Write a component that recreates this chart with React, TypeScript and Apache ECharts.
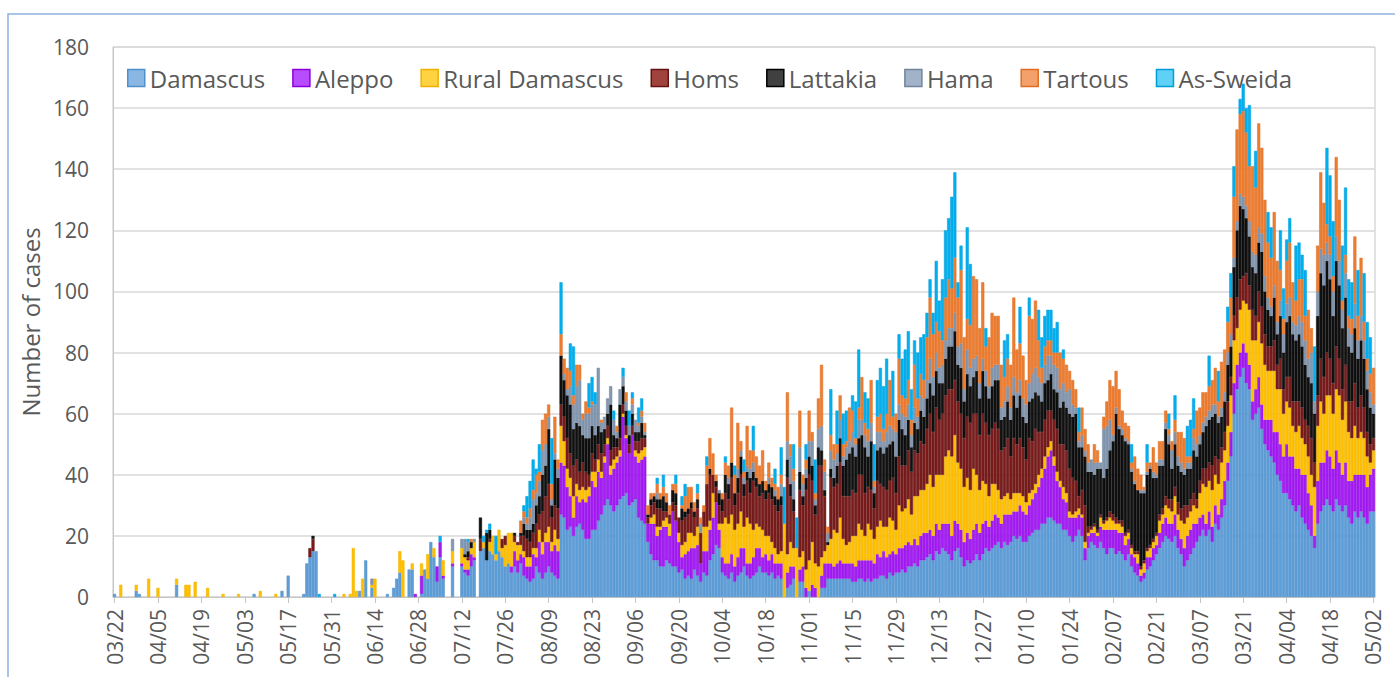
import React, { useEffect, useRef } from "react";
import * as echarts from "echarts";

// 407 daily categories, 03/22 (2020) .. 05/02 (2021)
const START = { y: 2020, m: 2, d: 22 };
const DAY_COUNT = 407;
const categories: string[] = [];
for (let i = 0; i < DAY_COUNT; i++) {
  const dt = new Date(START.y, START.m, START.d + i);
  const mm = String(dt.getMonth() + 1).padStart(2, "0");
  const dd = String(dt.getDate()).padStart(2, "0");
  categories.push(mm + "/" + dd);
}

const yTicks = [0, 20, 40, 60, 80, 100, 120, 140, 160, 180];

const damascus = [
1,0,0,0,0,0,0,2,1,0,0,0,0,0,
0,0,0,0,0,0,4,0,0,0,0,0,0,0,
0,0,0,0,0,0,0,0,0,0,0,0,0,0,
0,0,0,1,0,0,0,0,0,0,0,0,2,0,
7,0,0,0,0,1,11,13,15,15,0,0,0,0,
0,0,0,0,0,0,0,0,0,2,0,12,0,3,
0,0,0,0,1,0,3,6,8,0,0,9,9,0,
0,1,9,6,18,13,5,13,6,0,0,10,0,0,
10,8,7,10,12,0,15,16,12,15,14,12,15,13,
10,11,8,10,8,11,7,6,5,6,10,8,6,8,
10,8,7,6,27,26,22,23,20,23,24,22,19,19,
22,22,25,27,30,32,30,28,30,32,33,34,30,31,
32,26,25,24,18,14,12,12,10,10,12,11,10,10,
8,9,6,7,6,9,7,5,8,7,12,14,17,16,
8,7,6,8,5,7,8,10,7,6,7,8,10,8,
8,7,8,6,7,6,0,3,4,6,0,5,5,0,
2,0,0,0,3,3,6,6,6,6,6,6,6,6,
5,5,6,6,5,6,5,6,6,7,7,6,8,7,
8,8,9,8,10,10,11,10,12,12,13,14,12,15,
14,16,15,14,12,15,16,13,10,12,11,12,14,12,
14,16,15,16,17,18,16,18,17,18,20,19,20,18,
18,20,21,22,22,24,24,26,26,25,24,24,22,22,
20,18,20,22,20,12,16,18,17,16,18,16,14,16,
16,14,15,14,12,14,10,8,7,5,6,9,10,12,
14,16,18,20,19,18,20,16,14,10,12,14,16,18,
20,22,20,22,18,24,22,26,30,38,46,60,68,72,
75,70,68,58,60,62,55,50,48,46,44,40,38,34,
34,32,30,28,30,26,24,22,20,16,24,28,30,32,
30,28,32,30,28,30,26,24,28,26,28,26,24,28,28,
];

const aleppo = [
0,0,0,0,0,0,0,0,0,0,0,0,0,0,
0,0,0,0,0,0,0,0,0,0,0,0,0,0,
0,0,0,0,0,0,0,0,0,0,0,0,0,0,
0,0,0,0,0,0,0,0,0,0,0,0,0,0,
0,0,0,0,0,0,0,0,0,0,0,0,0,0,
0,0,0,0,0,0,0,0,0,0,0,0,0,0,
0,0,0,0,0,0,0,0,0,0,0,0,0,1,
0,6,0,0,0,0,5,5,1,0,0,1,0,0,
1,1,2,4,1,0,0,0,0,0,0,0,0,0,
0,0,2,5,4,3,6,4,5,8,3,10,8,10,
8,7,10,9,17,17,14,10,6,10,7,10,12,14,
16,14,16,12,14,18,10,14,14,14,26,18,17,22,
14,18,20,22,6,10,12,8,12,13,11,9,18,15,
10,4,8,8,10,7,10,6,7,8,10,12,14,6,
5,4,5,6,5,6,8,6,4,5,6,8,6,5,
6,5,6,5,4,5,0,5,6,4,0,4,5,3,
0,4,3,0,4,8,5,5,4,5,6,5,5,5,
6,5,6,6,7,6,7,5,8,6,8,7,6,8,
6,8,7,9,8,7,8,7,8,9,8,8,8,9,
8,8,9,10,8,10,8,9,8,9,8,10,10,9,
10,9,8,9,10,8,8,9,10,9,8,9,10,10,
9,10,11,12,14,15,18,20,22,18,14,12,10,9,
6,8,6,5,6,4,4,3,4,4,5,6,8,6,
6,8,6,7,5,5,4,5,4,2,2,4,3,4,
3,5,6,6,5,6,7,6,5,6,8,8,8,6,
6,5,4,6,5,6,5,6,8,6,8,10,8,8,
8,10,8,6,8,10,8,8,10,12,10,14,12,12,
16,14,16,14,12,14,16,12,10,4,14,16,14,16,
16,14,16,14,12,14,12,14,12,14,12,14,12,12,14,
];

const ruralDamascus = [
0,0,4,0,0,0,0,2,0,0,0,6,0,0,
3,0,0,0,0,0,2,0,0,4,4,0,5,0,
0,0,3,0,0,0,0,1,0,0,0,0,1,0,
0,0,0,0,0,2,0,0,0,0,1,0,0,0,
0,0,0,0,0,0,0,0,0,0,0,0,0,0,
0,0,0,0,1,0,1,16,2,0,6,0,0,1,
6,0,0,0,0,0,0,0,7,12,0,0,2,0,
0,4,0,8,0,3,0,0,5,0,0,4,0,0,
5,4,3,2,5,0,0,2,0,3,6,2,7,3,
7,10,11,3,5,3,2,3,3,2,3,4,4,3,
5,3,5,4,12,8,6,6,7,4,4,4,4,3,
3,5,4,2,2,2,3,3,2,2,1,1,0,0,
2,3,3,3,0,2,3,3,1,2,3,4,0,0,
3,4,4,6,5,4,6,0,8,8,3,8,0,2,
11,15,13,13,12,11,12,7,15,13,9,8,7,9,
6,8,4,5,3,4,24,6,8,6,16,4,5,6,
10,14,8,10,6,4,6,8,12,10,14,8,6,7,
9,10,12,10,8,12,10,8,9,12,8,10,12,10,
8,14,12,12,14,10,14,16,15,14,16,18,16,16,
18,16,22,24,26,28,20,20,18,18,16,20,16,14,
14,12,10,12,10,9,8,6,7,5,6,6,4,5,
4,4,3,3,4,3,4,3,3,3,3,2,4,3,
2,1,2,2,1,2,1,1,2,1,3,2,3,4,
3,2,3,2,3,2,2,1,3,2,3,2,3,2,
3,4,3,4,5,4,6,5,6,8,6,6,6,5,
8,10,12,10,12,10,10,12,10,12,12,14,12,14,
14,16,18,20,16,18,20,18,16,16,20,14,18,14,
14,16,10,12,14,12,10,12,10,16,18,20,16,18,
20,18,20,22,18,20,16,14,16,12,14,12,10,4,6,
];

const homs = [
0,0,0,0,0,0,0,0,0,0,0,0,0,0,
0,0,0,0,0,0,0,0,0,0,0,0,0,0,
0,0,0,0,0,0,0,0,0,0,0,0,0,0,
0,0,0,0,0,0,0,0,0,0,0,0,0,0,
0,0,0,0,0,0,0,3,4,0,0,0,0,0,
0,0,0,0,0,0,0,0,0,0,0,0,0,0,
0,0,0,0,0,0,0,0,0,0,0,0,0,0,
0,0,0,0,0,0,0,0,0,0,0,0,0,0,
0,0,1,0,0,0,4,0,0,1,0,0,0,3,
3,0,0,2,1,3,5,6,5,5,8,5,10,12,
14,8,8,10,7,8,10,8,10,8,6,8,6,4,
6,4,5,6,4,4,5,4,3,4,3,3,3,3,
3,4,4,3,2,4,4,6,6,3,2,3,3,5,
5,8,8,6,8,6,6,10,5,14,15,6,5,6,
4,8,8,12,8,10,12,10,12,10,16,12,10,12,
12,14,14,14,14,15,0,25,15,12,0,22,15,26,
28,20,16,33,30,18,0,20,14,16,18,14,16,15,
15,14,16,18,14,12,13,10,15,12,13,12,12,14,
12,16,15,14,16,14,15,14,16,15,18,20,18,22,
18,20,20,20,22,18,20,18,16,20,22,18,20,18,
22,20,20,18,20,20,16,16,18,14,18,16,18,16,
14,18,16,18,14,12,12,12,10,12,14,12,14,14,
14,12,10,4,8,12,2,1,1,1,1,1,1,2,
2,2,1,2,1,1,1,1,1,1,1,1,1,1,
1,2,2,3,3,4,3,4,4,6,4,4,4,3,
4,5,6,6,8,6,8,5,6,8,6,8,10,10,
8,10,8,10,8,10,12,10,8,8,10,8,10,8,
8,10,8,10,8,10,8,10,12,8,10,14,12,14,
12,10,14,12,10,12,10,12,14,10,12,10,8,6,4,
];

const lattakia = [
0,0,0,0,0,0,0,0,0,0,0,0,0,0,
0,0,0,0,0,0,0,0,0,0,0,0,0,0,
0,0,0,0,0,0,0,0,0,0,0,0,0,0,
0,0,0,0,0,0,0,0,0,0,0,0,0,0,
0,0,0,0,0,0,0,0,1,0,0,0,0,0,
0,0,0,0,0,0,0,0,0,0,0,0,0,0,
0,0,0,0,0,0,0,0,0,0,0,0,0,0,
0,0,0,0,0,0,0,0,0,0,0,0,0,0,
0,1,2,2,0,0,7,0,9,3,0,0,0,0,
0,0,0,1,0,1,4,3,4,3,6,6,12,10,
18,4,15,10,16,12,14,16,12,12,15,9,11,12,
9,8,6,7,5,4,15,4,3,11,6,5,3,4,
3,3,5,1,1,2,2,3,3,5,3,0,4,4,
0,4,2,2,2,2,3,0,0,0,2,0,2,4,
4,6,5,5,4,5,6,4,3,5,3,3,4,4,
3,3,4,3,4,3,0,6,4,4,0,6,3,4,
6,5,3,6,5,2,1,3,3,6,8,10,12,14,
14,12,12,13,15,10,16,5,10,12,11,14,12,12,
12,12,12,10,10,8,9,8,10,9,10,10,12,12,
12,10,12,14,14,16,12,15,12,14,12,12,14,12,
14,12,12,14,14,16,10,10,12,12,14,12,14,10,
12,12,14,12,12,10,12,10,12,10,12,12,14,14,
18,20,22,16,14,16,18,18,16,20,15,14,16,20,
24,34,30,28,30,28,24,22,20,24,22,24,25,20,
18,16,14,22,18,10,14,12,12,10,12,10,14,14,
12,12,14,14,16,14,12,10,10,12,10,16,22,24,
22,18,16,14,14,16,18,14,12,10,14,10,14,12,
18,20,22,20,22,20,18,16,18,16,26,28,30,30,
26,22,28,24,20,22,18,16,18,16,18,16,14,12,8,
];

const hama = [
0,0,0,0,0,0,0,0,0,0,0,0,0,0,
0,0,0,0,0,0,0,0,0,0,0,0,0,0,
0,0,0,0,0,0,0,0,0,0,0,0,0,0,
0,0,0,0,0,0,0,0,0,0,0,0,0,0,
0,0,0,0,0,0,0,0,0,0,0,0,0,0,
0,0,0,0,0,0,0,0,0,0,0,0,0,2,
0,0,0,0,0,0,0,0,0,0,0,0,0,0,
0,0,0,0,0,0,0,0,0,0,0,4,0,0,
3,5,3,0,1,0,0,0,0,0,0,0,0,0,
0,0,0,0,0,0,2,2,4,8,4,5,8,7,
4,2,2,3,0,2,2,6,8,12,15,5,8,8,
7,10,19,3,4,5,6,5,2,5,3,3,3,3,
4,2,2,1,0,0,0,2,0,0,0,0,0,0,
0,0,0,0,0,0,0,3,0,0,0,0,0,1,
0,0,2,0,0,3,2,2,2,3,3,0,0,0,
0,2,0,2,0,4,0,6,9,6,0,8,4,3,
5,8,2,6,8,6,3,6,6,4,6,3,4,4,
5,4,6,5,4,5,6,2,6,5,4,5,6,4,
8,5,5,6,5,4,5,4,5,6,6,8,6,6,
5,6,6,6,6,6,6,8,4,8,6,6,5,5,
4,5,4,6,5,5,4,5,5,4,6,5,5,6,
6,6,8,8,6,6,6,8,6,8,8,6,6,5,
8,4,2,2,4,2,3,4,4,2,2,16,14,10,
2,2,1,2,1,1,1,1,0,1,1,1,1,2,
1,2,2,2,3,6,4,3,3,2,2,2,4,4,
3,3,3,3,4,3,2,3,3,4,4,3,3,4,
4,4,5,5,6,5,6,5,4,3,4,4,5,6,
6,6,4,5,6,8,8,6,10,4,8,8,10,6,
8,8,8,8,6,8,6,6,8,6,8,6,6,5,3,
];

const tartous = [
0,0,0,0,0,0,0,0,0,0,0,0,0,0,
0,0,0,0,0,0,0,0,0,0,0,0,0,0,
0,0,0,0,0,0,0,0,0,0,0,0,0,0,
0,0,0,0,0,0,0,0,0,0,0,0,0,0,
0,0,0,0,0,0,0,0,0,0,0,0,0,0,
0,0,0,0,0,0,0,0,0,0,0,0,0,0,
0,0,0,0,0,0,0,0,0,0,0,0,0,0,
0,0,0,0,0,0,0,0,0,0,0,0,0,0,
0,0,0,1,0,0,0,0,0,0,0,0,0,0,
0,0,0,0,0,4,2,2,3,3,6,3,10,10,
4,5,12,3,7,5,7,5,3,7,5,2,4,2,
1,0,0,1,0,0,0,0,2,0,0,3,0,2,
0,1,2,3,3,2,1,3,2,3,3,3,2,3,
0,1,5,7,5,3,2,2,2,6,10,7,2,0,
2,4,4,18,6,15,3,2,13,6,4,7,6,10,
3,5,3,2,4,3,0,16,4,4,0,12,3,3,
10,3,2,10,20,4,2,5,5,3,8,4,2,11,
7,2,4,14,4,4,14,2,5,6,4,6,15,4,
6,15,6,6,8,5,14,6,7,6,14,20,14,10,
12,8,14,16,13,18,16,24,17,10,14,27,25,18,
25,8,16,18,16,16,14,8,9,14,26,14,12,14,
8,22,18,22,12,5,6,5,5,4,5,12,8,9,
6,8,6,3,9,7,6,0,6,4,0,4,8,13,
16,12,12,6,5,5,2,8,7,5,1,3,1,8,
4,6,6,4,2,3,4,8,10,10,2,2,3,11,
9,10,8,8,8,12,5,15,14,10,12,20,30,26,
28,24,18,28,22,34,28,25,18,16,24,20,10,5,
14,18,13,8,12,14,8,16,8,0,15,25,17,6,
6,5,26,20,3,6,4,5,22,8,19,6,4,6,12,
];

const asSweida = [
0,0,0,0,0,0,0,0,0,0,0,0,0,0,
0,0,0,0,0,0,0,0,0,0,0,0,0,0,
0,0,0,0,0,0,0,0,0,0,0,0,0,0,
0,0,0,0,0,0,0,0,0,0,0,0,0,0,
0,0,0,0,0,0,0,0,0,0,1,0,0,0,
0,1,0,0,0,0,0,0,0,0,0,0,0,0,
0,0,0,0,0,0,0,0,0,0,0,0,0,0,
0,0,0,0,0,0,0,2,0,0,0,0,0,0,
0,0,1,0,0,0,0,2,1,2,0,6,0,0,
0,0,0,0,0,0,2,7,9,10,2,9,0,0,
0,15,0,0,17,0,0,9,16,0,0,0,0,8,
8,4,0,0,0,0,0,3,0,0,3,0,5,2,
0,5,4,0,0,0,0,2,0,4,0,0,0,3,
0,3,4,0,0,0,3,0,0,3,0,0,0,0,
0,2,0,0,3,0,0,4,0,0,8,0,0,0,
0,0,0,5,0,9,12,0,0,8,10,0,0,5,
0,0,11,0,0,0,0,15,0,11,0,10,10,0,
5,12,19,0,10,10,0,12,12,15,14,18,0,15,
0,8,12,16,16,10,8,15,12,15,8,6,7,20,
10,20,22,20,30,28,5,8,0,30,20,0,0,0,
0,6,0,0,0,0,0,12,8,0,0,0,12,0,
0,6,0,0,10,10,10,10,10,8,10,0,3,0,
0,0,0,8,0,0,0,0,0,0,0,0,0,0,
0,0,0,0,0,0,6,0,0,0,0,6,0,0,
0,0,0,0,5,0,8,0,0,0,10,12,10,0,
0,0,0,10,0,0,10,0,0,5,8,10,0,5,
9,8,20,0,12,0,0,0,10,10,0,0,13,10,
7,8,0,18,12,8,15,0,0,18,0,0,0,25,
20,18,0,0,18,22,12,12,0,15,0,16,12,12,0,
];

const seriesNames = ["Damascus", "Aleppo", "Rural Damascus", "Homs", "Lattakia", "Hama", "Tartous", "As-Sweida"];
const seriesValues = [damascus, aleppo, ruralDamascus, homs, lattakia, hama, tartous, asSweida];
const fillColors = ["#5e9ed8", "#a51ef5", "#ffc000", "#7b1c1c", "#111111", "#8497b0", "#ed7d31", "#00b0f0"];
const borderColors = ["#4f8fcb", "#8a00dc", "#efb000", "#651212", "#000000", "#71849d", "#df6c20", "#009dd8"];
const legendFills = ["#8ab6e4", "#b84dff", "#ffd23f", "#a0433c", "#404040", "#a2b2c8", "#f4a06b", "#5fd0f6"];

const FONT = "'Open Sans', 'Noto Sans', sans-serif";
const TEXT = "#595959";
const AXIS_GRAY = "#c6c6c6";

export default function App() {
  const ref = useRef<HTMLDivElement>(null);
  useEffect(() => {
    if (!ref.current) return;
    const chart = echarts.init(ref.current, undefined, { renderer: "svg" });
    const series = seriesNames.map((name, i) => ({
      name,
      type: "bar",
      stack: "total",
      barCategoryGap: "0%",
      data: seriesValues[i].map((v) => (v === 0 ? "-" : v)),
      itemStyle: { color: fillColors[i], borderColor: borderColors[i], borderWidth: 0.5 },
      emphasis: { disabled: true },
    }));
    chart.setOption({
      animation: false,
      textStyle: { fontFamily: FONT },
      graphic: [
        {
          type: "rect",
          shape: { x: 8, y: 14, width: 1400, height: 720 },
          style: { fill: "none", stroke: "#8db4e2", lineWidth: 1.5 },
          silent: true,
        },
      ],
      grid: {
        left: 113,
        right: 20,
        top: 47,
        bottom: 80,
        show: true,
        borderColor: AXIS_GRAY,
        borderWidth: 1,
      },
      legend: {
        top: 61,
        left: 122,
        icon: "rect",
        itemWidth: 17,
        itemHeight: 17,
        itemGap: 27,
        textStyle: { fontSize: 24, color: TEXT, fontFamily: FONT },
        data: seriesNames.map((n, i) => ({
          name: n,
          itemStyle: { color: legendFills[i], borderColor: borderColors[i], borderWidth: 1.5 },
        })),
      },
      xAxis: {
        type: "category",
        data: categories,
        boundaryGap: true,
        axisLine: { lineStyle: { color: AXIS_GRAY } },
        axisTick: { show: true, alignWithLabel: true, interval: 13, length: 6, lineStyle: { color: AXIS_GRAY } },
        axisLabel: { interval: 13, rotate: 90, fontSize: 21, color: TEXT, margin: 12, fontFamily: FONT },
      },
      yAxis: {
        type: "value",
        min: yTicks[0],
        max: yTicks[yTicks.length - 1],
        interval: 20,
        name: "Number of cases",
        nameLocation: "middle",
        nameGap: 66,
        nameRotate: 90,
        nameTextStyle: { fontSize: 24, color: TEXT, fontFamily: FONT },
        axisLine: { show: true, lineStyle: { color: AXIS_GRAY } },
        axisTick: { show: false },
        axisLabel: { fontSize: 21, color: TEXT, margin: 24, fontFamily: FONT },
        splitLine: { lineStyle: { color: "#d9d9d9", width: 1.5 } },
      },
      series,
    });
    return () => chart.dispose();
  }, []);
  return (
    <div
      ref={ref}
      style={{ position: "absolute", left: 0, top: 0, width: 1395, height: 677, background: "#fff" }}
    />
  );
}
